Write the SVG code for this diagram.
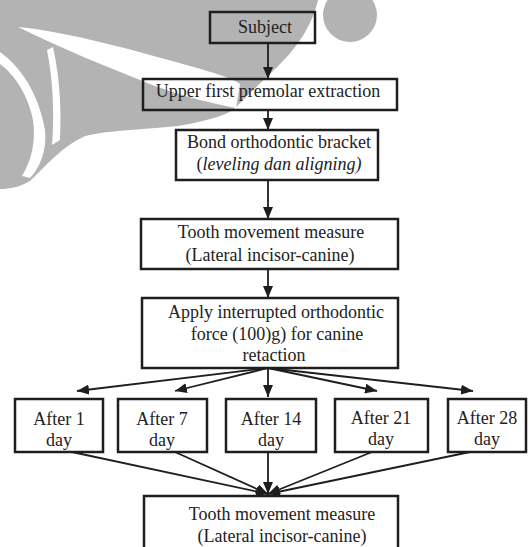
<svg xmlns="http://www.w3.org/2000/svg" width="529" height="547" viewBox="0 0 529 547">
<style>
.box{fill:none;stroke:#1e1e1e;stroke-width:2.5}
.t{font-family:"Liberation Serif","Times New Roman",serif;font-size:18px;fill:#222;text-anchor:middle}
.e{stroke:#1e1e1e;stroke-width:1.8;fill:none;marker-end:url(#ah)}
.wm{fill:#b3b3b3}
.wh{fill:#ffffff}
</style>
<defs>
<marker id="ah" viewBox="0 0 12 10" refX="12" refY="5" markerWidth="12" markerHeight="10" orient="auto" markerUnits="userSpaceOnUse">
<path d="M0,0 L12,5 L0,10 Z" fill="#1e1e1e"/>
</marker>
</defs>
<rect width="529" height="547" fill="#ffffff"/>
<g id="watermark">
<circle class="wm" cx="350" cy="15" r="27"/>
<path class="wm" d="M0,0 H318 C312,25 298,48 272,72 C255,88 243,100 233,110 C222,117 205,121 178,126 C150,129 110,130 85,136 C62,146 46,166 30,181 C20,187 10,189 0,189 Z"/>
<path class="wh" d="M18,27 C70,32 140,52 190,66 C215,73 232,78 240,84 L236,108 C215,104 180,96 150,84 C110,68 60,48 18,27 Z"/>
<path class="wh" d="M53,47 C58,70 62,100 60,140 L52,145 C55,110 52,75 47,50 Z"/>
<path class="wh" d="M0,52 C25,70 40,100 45,130 C47,150 40,168 30,178 L22,176 C32,160 36,140 33,120 C28,95 15,75 0,64 Z"/>
</g>
<g id="connectors">
<line class="e" x1="268" y1="43" x2="268" y2="79"/>
<line class="e" x1="268" y1="110" x2="268" y2="130"/>
<line class="e" x1="268" y1="180" x2="268" y2="219"/>
<line class="e" x1="268" y1="269" x2="268" y2="298"/>
<line class="e" x1="268" y1="368" x2="77" y2="391"/>
<line class="e" x1="268" y1="368" x2="175" y2="391"/>
<line class="e" x1="268" y1="368" x2="268" y2="397"/>
<line class="e" x1="268" y1="368" x2="377" y2="391"/>
<line class="e" x1="268" y1="368" x2="473" y2="391"/>
<line class="e" x1="72" y1="452" x2="268" y2="494"/>
<line class="e" x1="175" y1="452" x2="268" y2="494"/>
<line class="e" x1="268" y1="452" x2="268" y2="494"/>
<line class="e" x1="372" y1="452" x2="268" y2="494"/>
<line class="e" x1="470" y1="452" x2="268" y2="494"/>
</g>
<g id="subject">
<rect class="box" x="210" y="12" width="105" height="31"/>
<text class="t" x="265" y="33">Subject</text>
</g>
<g id="extraction">
<rect class="box" x="143" y="79" width="254" height="31"/>
<text class="t" x="268" y="97">Upper first premolar extraction</text>
</g>
<g id="bracket">
<rect class="box" x="176" y="130" width="202" height="50"/>
<text class="t" x="279" y="148">Bond orthodontic bracket</text>
<text class="t" x="279" y="170">(<tspan font-style="italic">leveling dan aligning)</tspan></text>
</g>
<g id="measure1">
<rect class="box" x="141" y="219" width="257" height="50"/>
<text class="t" x="271" y="238">Tooth movement measure</text>
<text class="t" x="270" y="261">(Lateral incisor-canine)</text>
</g>
<g id="force">
<rect class="box" x="142" y="298" width="256" height="70"/>
<text class="t" x="276" y="318">Apply interrupted orthodontic</text>
<text class="t" x="277" y="340">force (100)g) for canine</text>
<text class="t" x="274" y="361">retaction</text>
</g>
<g id="day1">
<rect class="box" x="15" y="399" width="88" height="53"/>
<text class="t" x="59" y="425">After 1</text>
<text class="t" x="59" y="446">day</text>
</g>
<g id="day7">
<rect class="box" x="118" y="399" width="89" height="53"/>
<text class="t" x="162" y="425">After 7</text>
<text class="t" x="162" y="446">day</text>
</g>
<g id="day14">
<rect class="box" x="226" y="399" width="90" height="53"/>
<text class="t" x="271" y="425">After 14</text>
<text class="t" x="271" y="446">day</text>
</g>
<g id="day21">
<rect class="box" x="335" y="399" width="93" height="53"/>
<text class="t" x="381" y="424">After 21</text>
<text class="t" x="381" y="445">day</text>
</g>
<g id="day28">
<rect class="box" x="448" y="399" width="78" height="53"/>
<text class="t" x="487" y="424">After 28</text>
<text class="t" x="487" y="445">day</text>
</g>
<g id="measure2">
<rect class="box" x="144" y="496" width="254" height="70"/>
<text class="t" x="282" y="520">Tooth movement measure</text>
<text class="t" x="282" y="542">(Lateral incisor-canine)</text>
</g>
</svg>
